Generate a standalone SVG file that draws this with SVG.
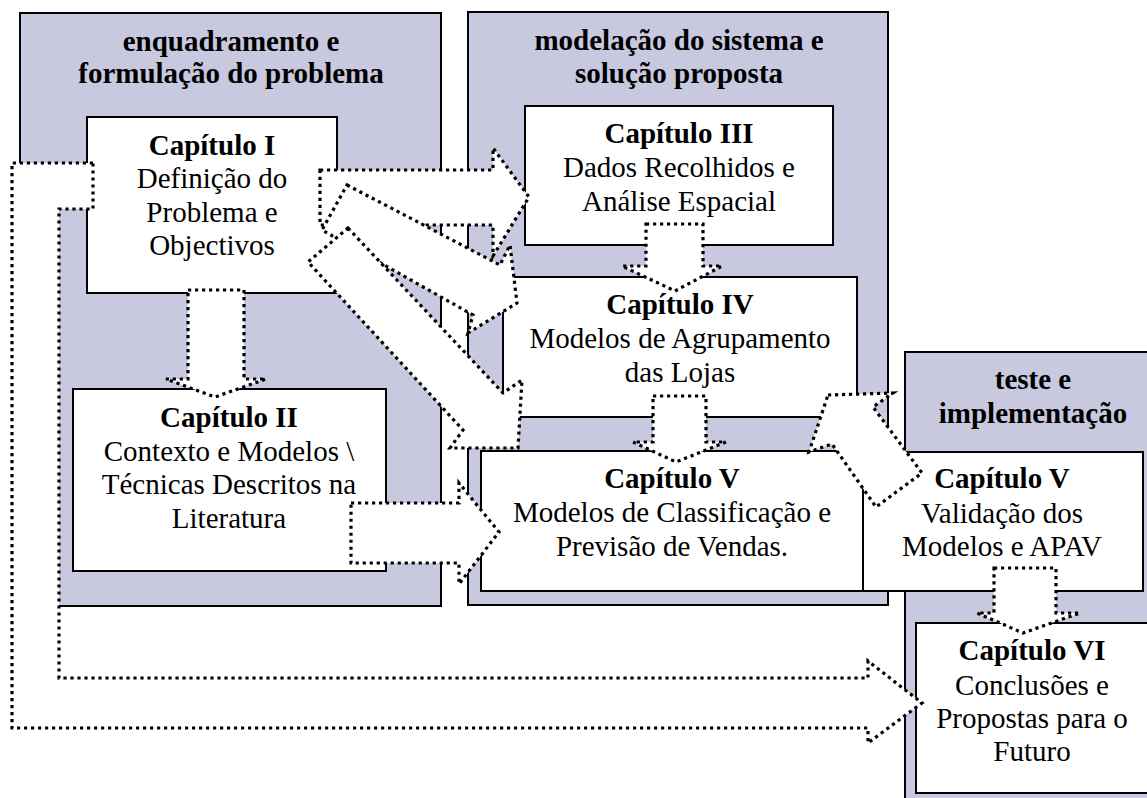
<svg xmlns="http://www.w3.org/2000/svg" width="1147" height="798" viewBox="0 0 1147 798">
<style>
.panel{fill:#c8c8de;stroke:#000;stroke-width:2}
.box{fill:#fff;stroke:#000;stroke-width:2}
.arr{fill:#fff;stroke:#000;stroke-width:3.2;stroke-dasharray:3.2 3.8}
text{font-size:29px;fill:#000;text-anchor:middle}
.b{font-weight:bold}
</style>
<rect width="1147" height="798" fill="#fff"/>
<g font-family="'Liberation Serif', 'DejaVu Serif', serif">
<g id="panel-enquadramento">
<rect class="panel" x="20" y="13" width="421" height="593"/>
<text class="b" x="231" y="51">enquadramento e</text>
<text class="b" x="231" y="83">formulação do problema</text>
</g>
<g id="panel-modelacao">
<rect class="panel" x="468" y="12" width="420" height="593"/>
<text class="b" x="679" y="50">modelação do sistema e</text>
<text class="b" x="679" y="83">solução proposta</text>
</g>
<g id="panel-teste">
<rect class="panel" x="905" y="352" width="250" height="460"/>
<text class="b" x="1033" y="389">teste e</text>
<text class="b" x="1033" y="423">implementação</text>
</g>
<g id="cap1">
<rect class="box" x="87" y="117" width="250" height="176"/>
<text class="b" x="212" y="155">Capítulo I</text>
<text x="212" y="188">Definição do</text>
<text x="212" y="222">Problema e</text>
<text x="212" y="255">Objectivos</text>
</g>
<g id="cap2">
<rect class="box" x="73" y="389" width="313" height="182"/>
<text class="b" x="229" y="427">Capítulo II</text>
<text x="229" y="461">Contexto e Modelos \</text>
<text x="229" y="494">Técnicas Descritos na</text>
<text x="229" y="528">Literatura</text>
</g>
<g id="cap3">
<rect class="box" x="525" y="106" width="308" height="139"/>
<text class="b" x="679" y="143">Capítulo III</text>
<text x="679" y="177">Dados Recolhidos e</text>
<text x="679" y="211">Análise Espacial</text>
</g>
<g id="cap4">
<rect class="box" x="503" y="277" width="354" height="140"/>
<text class="b" x="680" y="314">Capítulo IV</text>
<text x="680" y="348">Modelos de Agrupamento</text>
<text x="680" y="382">das Lojas</text>
</g>
<g id="cap5-classificacao">
<rect class="box" x="481" y="451" width="382" height="140"/>
<text class="b" x="672" y="488">Capítulo V</text>
<text x="672" y="522">Modelos de Classificação e</text>
<text x="672" y="556">Previsão de Vendas.</text>
</g>
<g id="cap5-validacao">
<rect class="box" x="863" y="452" width="280" height="139"/>
<text class="b" x="1002" y="488">Capítulo V</text>
<text x="1002" y="523">Validação dos</text>
<text x="1002" y="556">Modelos e APAV</text>
</g>
<g id="cap6">
<rect class="box" x="916" y="623" width="240" height="170"/>
<text class="b" x="1032" y="660">Capítulo VI</text>
<text x="1032" y="695">Conclusões e</text>
<text x="1032" y="728">Propostas para o</text>
<text x="1032" y="761">Futuro</text>
</g>
</g>
<g id="connectors">
<path class="arr" d="M93,163 L12,163 L12,728 L868,728 L868,743 L922,703 L868,661 L868,678 L59,678 L59,209 L93,209 Z"/>
<path class="arr" d="M188,290 L244,290 L244,379 L266,379 L215,397 L166,379 L188,379 Z"/>
<path class="arr" d="M320,170 L493,170 L493,148 L529,197 L493,256 L493,225 L320,225 Z"/>
<path class="arr" d="M347,185 L500,265 L510,245 L517,303 L468,333 L473,315 L322,230 Z"/>
<path class="arr" d="M348,228 L503,393 L522,380 L518,448 L450,448 L463,430 L308,262 Z"/>
<path class="arr" d="M351,503 L459,503 L459,483 L499,532 L459,584 L459,563 L351,563 Z"/>
<path class="arr" d="M646,224 L703,224 L703,266 L722,266 L675,291 L622,266 L646,266 Z"/>
<path class="arr" d="M653,396 L706,396 L706,442 L726,442 L676,462 L633,442 L653,442 Z"/>
<path class="arr" d="M828,395 L893,393 L873,407 L922,473 L876,507 L832,444 L809,452 Z"/>
<path class="arr" d="M994,568 L1056,568 L1056,613 L1080,613 L1023,633 L977,613 L994,613 Z"/>
</g>
</svg>
